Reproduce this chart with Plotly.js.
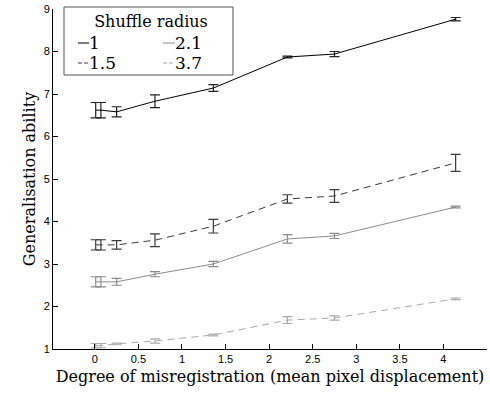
<!DOCTYPE html>
<html>
<head>
<meta charset="utf-8">
<script src="https://cdn.plot.ly/plotly-3.0.1.min.js"></script>
<style>html,body{margin:0;padding:0;background:#fff;}#chart{width:490px;height:396px;}</style>
</head>
<body>
<div id="chart"></div>
<script>
// Data
var xDisp = [0.01, 0.07, 0.25, 0.69, 1.36, 2.21, 2.75, 4.14];
var names = ["1", "1.5", "2.1", "3.7"];
var r1 = [6.62, 6.62, 6.58, 6.83, 7.14, 7.87, 7.94, 8.76];
var r1err = [0.18, 0.18, 0.12, 0.15, 0.08, 0.02, 0.06, 0.04];
var r15 = [3.45, 3.45, 3.45, 3.56, 3.89, 4.53, 4.60, 5.38];
var r15err = [0.12, 0.12, 0.10, 0.15, 0.16, 0.10, 0.15, 0.20];
var r21 = [2.58, 2.58, 2.58, 2.76, 3.00, 3.59, 3.66, 4.34];
var r21err = [0.12, 0.12, 0.08, 0.06, 0.06, 0.10, 0.06, 0.02];
var r37 = [1.08, 1.08, 1.12, 1.19, 1.33, 1.68, 1.73, 2.18];
var r37err = [0.05, 0.05, 0.02, 0.05, 0.02, 0.08, 0.05, 0.02];
var xTicks = [0, 0.5, 1, 1.5, 2, 2.5, 3, 3.5, 4, 4.5];
var yTicks = [1, 2, 3, 4, 5, 6, 7, 8, 9];

var SERIF = "DejaVu Serif";
var SANS = "Liberation Sans";

var styles = [
  {color: "#000000", err: "#222222", dash: "solid"},
  {color: "#3a3a3a", err: "#3a3a3a", dash: "7px,5px"},
  {color: "#8c8c8c", err: "#8c8c8c", dash: "solid"},
  {color: "#ababab", err: "#ababab", dash: "7px,5px"}
];
var series = [r1, r15, r21, r37];
var errs = [r1err, r15err, r21err, r37err];

var traces = series.map(function (ys, i) {
  return {
    x: xDisp, y: ys, type: "scatter", mode: "lines", name: names[i],
    line: {color: styles[i].color, width: 1, dash: styles[i].dash},
    error_y: {type: "data", array: errs[i], visible: true, color: styles[i].err, thickness: 1.2, width: 5},
    showlegend: false, hoverinfo: "skip"
  };
});

function px(p) { return (p - 53) / 434; }
function py(p) { return (349 - p) / 340; }

var shapes = [
  {type: "rect", xref: "paper", yref: "paper", x0: px(64), x1: px(233), y0: py(75), y1: py(7),
   line: {color: "#555", width: 1}, fillcolor: "#fff", layer: "above"}
];
var legendPos = [
  {lx0: 78, lx1: 89, tx: 87, ty: 43},
  {lx0: 78, lx1: 89, tx: 87, ty: 63},
  {lx0: 163, lx1: 175, tx: 173, ty: 43},
  {lx0: 163, lx1: 175, tx: 173, ty: 63}
];
var annotations = [];
legendPos.forEach(function (p, i) {
  shapes.push({type: "line", xref: "paper", yref: "paper", x0: px(p.lx0), x1: px(p.lx1), y0: py(p.ty), y1: py(p.ty),
    line: {color: styles[i].color, width: 1, dash: i % 2 ? "4px,2px" : "solid"}, layer: "above"});
  annotations.push({xref: "paper", yref: "paper", x: px(p.tx), y: py(p.ty),
    text: names[i], showarrow: false,
    xanchor: "left", yanchor: "middle", font: {family: SERIF, size: 17, color: "#000"}});
});

var layout = {
  width: 490, height: 396,
  margin: {l: 53, r: 3, t: 9, b: 47},
  paper_bgcolor: "#fff", plot_bgcolor: "#fff",
  font: {family: SERIF, color: "#000"},
  showlegend: false,
  title: {text: "Shuffle radius", xref: "paper", yref: "paper", x: px(151), y: py(21),
          xanchor: "center", yanchor: "middle", font: {family: SERIF, size: 16, color: "#000"}},
  xaxis: {
    range: [-0.48, 4.5], tickvals: xTicks, ticktext: xTicks.map(String),
    ticks: "inside", ticklen: 5, tickcolor: "#000", showline: true, linecolor: "#000", linewidth: 1,
    showgrid: false, zeroline: false, mirror: false,
    tickfont: {family: SANS, size: 11, color: "#000"},
    title: {text: "Degree of misregistration (mean pixel displacement)", standoff: 6,
            font: {family: SERIF, size: 16, color: "#000"}}
  },
  yaxis: {
    range: [1, 9], tickvals: yTicks, ticktext: yTicks.map(String),
    ticks: "inside", ticklen: 5, tickcolor: "#000", showline: true, linecolor: "#000", linewidth: 1,
    showgrid: false, zeroline: false, mirror: false,
    tickfont: {family: SANS, size: 11, color: "#000"},
    title: {text: "Generalisation ability", standoff: 4,
            font: {family: SERIF, size: 16, color: "#000"}}
  },
  shapes: shapes,
  annotations: annotations
};

Plotly.newPlot("chart", traces, layout, {staticPlot: true, displayModeBar: false});
</script>
</body>
</html>
